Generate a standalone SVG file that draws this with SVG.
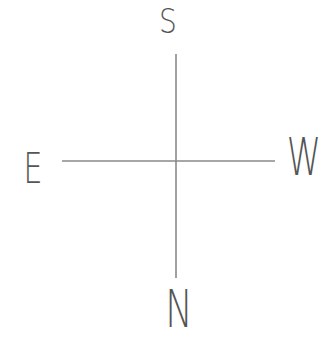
<svg xmlns="http://www.w3.org/2000/svg" width="328" height="339" viewBox="0 0 328 339">
<style>
.lbl{font-family:"DejaVu Sans","Liberation Sans",sans-serif;font-weight:200;fill:#555;}
.ax{stroke:#8a8a8a;stroke-width:1.6;fill:none;}
</style>
<rect width="328" height="339" fill="#fff"/>
<g id="connectors">
<line class="ax" x1="176" y1="54" x2="176" y2="278"/>
<line class="ax" x1="62" y1="161" x2="275" y2="161"/>
</g>
<g id="S"><text class="lbl" font-size="33" text-anchor="middle" transform="translate(168,33) scale(0.85,1)">S</text></g>
<g id="E"><text class="lbl" font-size="43" text-anchor="middle" transform="translate(33,183) scale(0.7,1)">E</text></g>
<g id="W"><text class="lbl" font-size="51" text-anchor="middle" transform="translate(304,175) scale(0.68,1)">W</text></g>
<g id="N"><text class="lbl" font-size="51" text-anchor="middle" transform="translate(179,327) scale(0.72,1)">N</text></g>
</svg>
